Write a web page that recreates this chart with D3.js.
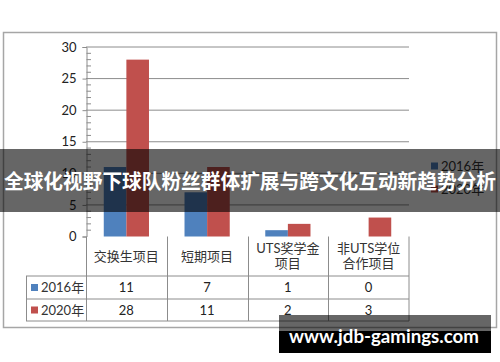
<!DOCTYPE html>
<html>
<head>
<meta charset="utf-8">
<script src="https://cdn.jsdelivr.net/npm/d3@7"></script>
<style>
  body { margin: 0; background: #fff; }
  svg { display: block; }
  text { font-family: Lato, "Noto Sans CJK SC", sans-serif; }
</style>
</head>
<body>
<div id="chart"></div>
<script>
var categories = [["交换生项目"], ["短期项目"], ["UTS奖学金", "项目"], ["非UTS学位", "合作项目"]];
var seriesNames = ["2016年", "2020年"];
var values2016 = [11, 7, 1, 0];
var values2020 = [28, 11, 2, 3];
var yTicks = [0, 5, 10, 15, 20, 25, 30];
var colors = ["#4f81bd", "#c0504d"];
var title = "全球化视野下球队粉丝群体扩展与跨文化互动新趋势分析";
var watermark = "www.jdb-gamings.com";

var width = 500, height = 362;
var series = [values2016, values2020];

var svg = d3.select("#chart").append("svg")
  .attr("width", width)
  .attr("height", height);

// chart frame
svg.append("rect")
  .attr("x", 3.5).attr("y", 32.5)
  .attr("width", 493).attr("height", 295)
  .attr("fill", "#fff")
  .attr("stroke", "#a6a6a6")
  .attr("stroke-width", 1.5);

var x = d3.scaleBand()
  .domain(d3.range(categories.length))
  .range([86, 409]);

var xs = d3.scaleBand()
  .domain(d3.range(series.length))
  .range([x.bandwidth() * 0.22, x.bandwidth() * 0.78]);

var y = d3.scaleLinear()
  .domain([0, 30])
  .range([236.5, 47]);

// gridlines
svg.selectAll(".grid")
  .data(yTicks.slice(1))
  .enter().append("line")
  .attr("x1", 86).attr("x2", 409)
  .attr("y1", function (d) { return y(d) }).attr("y2", function (d) { return y(d) })
  .attr("stroke", "#8c8c8c");

// y axis
var yAxis = d3.axisLeft(y)
  .tickValues(yTicks)
  .tickSize(4)
  .tickPadding(6);
var ag = svg.append("g")
  .attr("transform", "translate(86.5,0)")
  .call(yAxis);
ag.select(".domain").attr("stroke", "#8c8c8c");
ag.selectAll(".tick line").attr("stroke", "#8c8c8c");
ag.selectAll(".tick text")
  .attr("font-size", 13)
  .attr("fill", "#222")
  .attr("font-family", "Lato, sans-serif");

// minor ticks
svg.selectAll(".minor")
  .data(d3.range(0, 31).filter(function (d) { return d % 5 !== 0 }))
  .enter().append("line")
  .attr("x1", 86.5).attr("x2", 91)
  .attr("y1", function (d) { return y(d) }).attr("y2", function (d) { return y(d) })
  .attr("stroke", "#8c8c8c");

// bars
series.forEach(function (vals, si) {
  svg.selectAll(".bar" + si)
    .data(vals)
    .enter().append("rect")
    .attr("x", function (d, i) { return x(i) + xs(si) })
    .attr("y", function (d) { return y(d) })
    .attr("width", xs.bandwidth())
    .attr("height", function (d) { return y(0) - y(d) })
    .attr("fill", colors[si]);
});

// data table
var rowTop = 236.5, headerBottom = 276, row1 = 299, row2 = 321;
var tableLine = "#8c8c8c";
var tg = svg.append("g");

tg.append("line").attr("x1", 26).attr("x2", 409).attr("y1", headerBottom).attr("y2", headerBottom).attr("stroke", tableLine);
tg.append("line").attr("x1", 26).attr("x2", 409).attr("y1", row1).attr("y2", row1).attr("stroke", tableLine);
tg.append("line").attr("x1", 26).attr("x2", 409).attr("y1", row2).attr("y2", row2).attr("stroke", tableLine);
tg.append("line").attr("x1", 26.5).attr("x2", 26.5).attr("y1", headerBottom).attr("y2", row2).attr("stroke", tableLine);
tg.append("line").attr("x1", 409).attr("x2", 409).attr("y1", rowTop).attr("y2", row2).attr("stroke", tableLine);

tg.selectAll(".col")
  .data(d3.range(categories.length))
  .enter().append("line")
  .attr("x1", function (d) { return Math.round(x(d)) + 0.5 })
  .attr("x2", function (d) { return Math.round(x(d)) + 0.5 })
  .attr("y1", rowTop).attr("y2", row2)
  .attr("stroke", tableLine);

// category headers
categories.forEach(function (lines, i) {
  var cx = x(i) + x.bandwidth() / 2;
  var cy = (rowTop + headerBottom) / 2;
  var lh = 15;
  lines.forEach(function (t, li) {
    tg.append("text")
      .attr("x", cx)
      .attr("y", cy + (li - (lines.length - 1) / 2) * lh)
      .attr("dy", "0.35em")
      .attr("text-anchor", "middle")
      .attr("font-size", 13)
      .attr("font-family", "Lato, 'Noto Sans CJK SC', sans-serif")
      .attr("fill", "#333")
      .text(t);
  });
});

// rows
var rowCenters = [(headerBottom + row1) / 2, (row1 + row2) / 2];
series.forEach(function (vals, si) {
  var cy = rowCenters[si];
  tg.append("rect")
    .attr("x", 31).attr("y", cy - 3.5)
    .attr("width", 7).attr("height", 7)
    .attr("fill", colors[si]);
  tg.append("text")
    .attr("x", 41).attr("y", cy).attr("dy", "0.35em")
    .attr("font-size", 13).attr("fill", "#333")
    .text(seriesNames[si]);
  tg.selectAll(".v" + si)
    .data(vals)
    .enter().append("text")
    .attr("x", function (d, i) { return x(i) + x.bandwidth() / 2 })
    .attr("y", cy).attr("dy", "0.35em")
    .attr("text-anchor", "middle")
    .attr("font-size", 13).attr("fill", "#222")
    .text(function (d) { return d });
});

// legend
var legend = svg.selectAll(".legend")
  .data(seriesNames)
  .enter().append("g")
  .attr("transform", function (d, i) { return "translate(431," + (166 + i * 23) + ")" });
legend.append("rect")
  .attr("x", 0).attr("y", -3.5)
  .attr("width", 7).attr("height", 7)
  .attr("fill", function (d, i) { return colors[i] });
legend.append("text")
  .attr("x", 10).attr("dy", "0.35em")
  .attr("font-size", 13).attr("fill", "#333")
  .text(function (d) { return d });

// title banner overlay
svg.append("rect")
  .attr("x", 0).attr("y", 149)
  .attr("width", width).attr("height", 63)
  .attr("fill", "rgba(0,0,0,0.6)");
svg.append("text")
  .attr("x", width / 2).attr("y", 182)
  .attr("dy", "0.35em")
  .attr("text-anchor", "middle")
  .attr("font-size", 20)
  .attr("font-weight", "bold")
  .attr("font-family", "'Noto Sans CJK SC', sans-serif")
  .attr("fill", "#fff")
  .attr("textLength", 492)
  .attr("lengthAdjust", "spacingAndGlyphs")
  .text(title);

// watermark
svg.append("rect")
  .attr("x", 279).attr("y", 315)
  .attr("width", 212).attr("height", 16)
  .attr("fill", "rgba(0,0,0,0.6)");
svg.append("rect")
  .attr("x", 279).attr("y", 331)
  .attr("width", 212).attr("height", 22)
  .attr("fill", "#000");
svg.append("text")
  .attr("x", 384).attr("y", 343)
  .attr("text-anchor", "middle")
  .attr("font-size", 18)
  .attr("font-weight", "bold")
  .attr("font-family", "'Open Sans', sans-serif")
  .attr("fill", "#fff")
  .attr("textLength", 190)
  .attr("lengthAdjust", "spacingAndGlyphs")
  .text(watermark);
</script>
</body>
</html>
